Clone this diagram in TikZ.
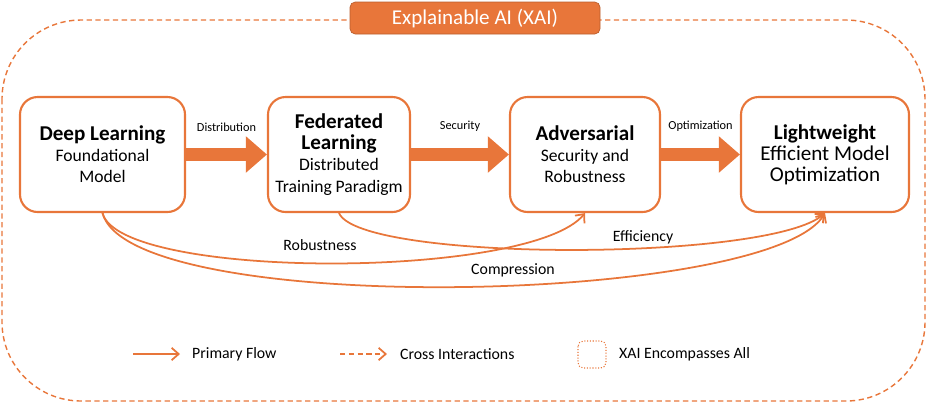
\documentclass[tikz,border=0pt]{standalone}
\usepackage{fontspec}
\setmainfont{Carlito}
\usetikzlibrary{arrows.meta}
\definecolor{xaiorange}{RGB}{232,118,58}
\tikzset{
    stage/.style={draw=xaiorange, line width=1.2pt, rounded corners=10pt, fill=white,
        align=center, minimum height=115*0.2mm, inner sep=2pt},
    flow/.style={draw=xaiorange, line width=7pt, -{Triangle[length=12pt,width=20pt]}},
    cross/.style={draw=xaiorange, line width=1pt, -{Straight Barb[length=4pt,width=7pt]}},
    flowlab/.style={font=\scriptsize, above},
    crosslab/.style={font=\small}
}
\begin{document}
\begin{tikzpicture}[x=0.2mm, y=-0.2mm]
            \useasboundingbox (0,0) rectangle (928,404);
            \draw[xaiorange, densely dashed, line width=0.8pt, rounded corners=45pt] (2,20) rectangle (925,401);
            \node[fill=xaiorange, draw=xaiorange!80!black, rounded corners=3pt, minimum width=250*0.2mm,
                minimum height=32*0.2mm, text=white, font=\large] (xai) at (475,18) {Explainable AI (XAI)};

            \node[stage, minimum width=165*0.2mm] (deep) at (102.5,154.5)
                {{\large\bfseries Deep Learning}\\Foundational\\Model};
            \node[stage, minimum width=142*0.2mm] (fed) at (339,154.5)
                {{\large\bfseries Federated}\\{\large\bfseries Learning}\\Distributed\\Training Paradigm};
            \node[stage, minimum width=150*0.2mm] (adv) at (585,154.5)
                {{\large\bfseries Adversarial}\\Security and\\Robustness};
            \node[stage, minimum width=168*0.2mm] (light) at (825,154.5)
                {{\large\bfseries Lightweight}\\{\large Efficient Model}\\{\large Optimization}};

            % primary flow
            \draw[flow] (deep.east) -- node[flowlab, yshift=6pt]{Distribution} (fed.west);
            \draw[flow] (fed.east) -- node[flowlab, yshift=6pt]{Security} (adv.west);
            \draw[flow] (adv.east) -- node[flowlab, yshift=6pt]{Optimization} (light.west);

            % cross interactions
            \draw[cross] (deep.south) .. controls (120,280) and (530,280) .. (adv.south);
            \draw[cross] (deep.south) .. controls (130,318) and (770,305) .. (light.south);
            \draw[cross] (fed.south) .. controls (360,262) and (770,262) .. (light.south);
            \node[crosslab] (rob) at (320,245) {Robustness};
            \node[crosslab] (eff) at (643,237) {Efficiency};
            \node[crosslab] (comp) at (513,270) {Compression};

            % legend
            \coordinate (pa) at (133,354);
            \coordinate (pb) at (180,354);
            \draw[cross] (pa) -- (pb);
            \node[crosslab, anchor=west] (prim) at (186,354) {Primary Flow};
            \coordinate (ca) at (340,354);
            \coordinate (cb) at (387,354);
            \draw[cross, densely dashed] (ca) -- (cb);
            \node[crosslab, anchor=west] (crs) at (394,354) {Cross Interactions};
            \draw[xaiorange, densely dotted, line width=0.6pt, rounded corners=3pt] (578,341) rectangle (606,368);
            \node[crosslab, anchor=west] (enc) at (613,354) {XAI Encompasses All};
\end{tikzpicture}
\end{document}
